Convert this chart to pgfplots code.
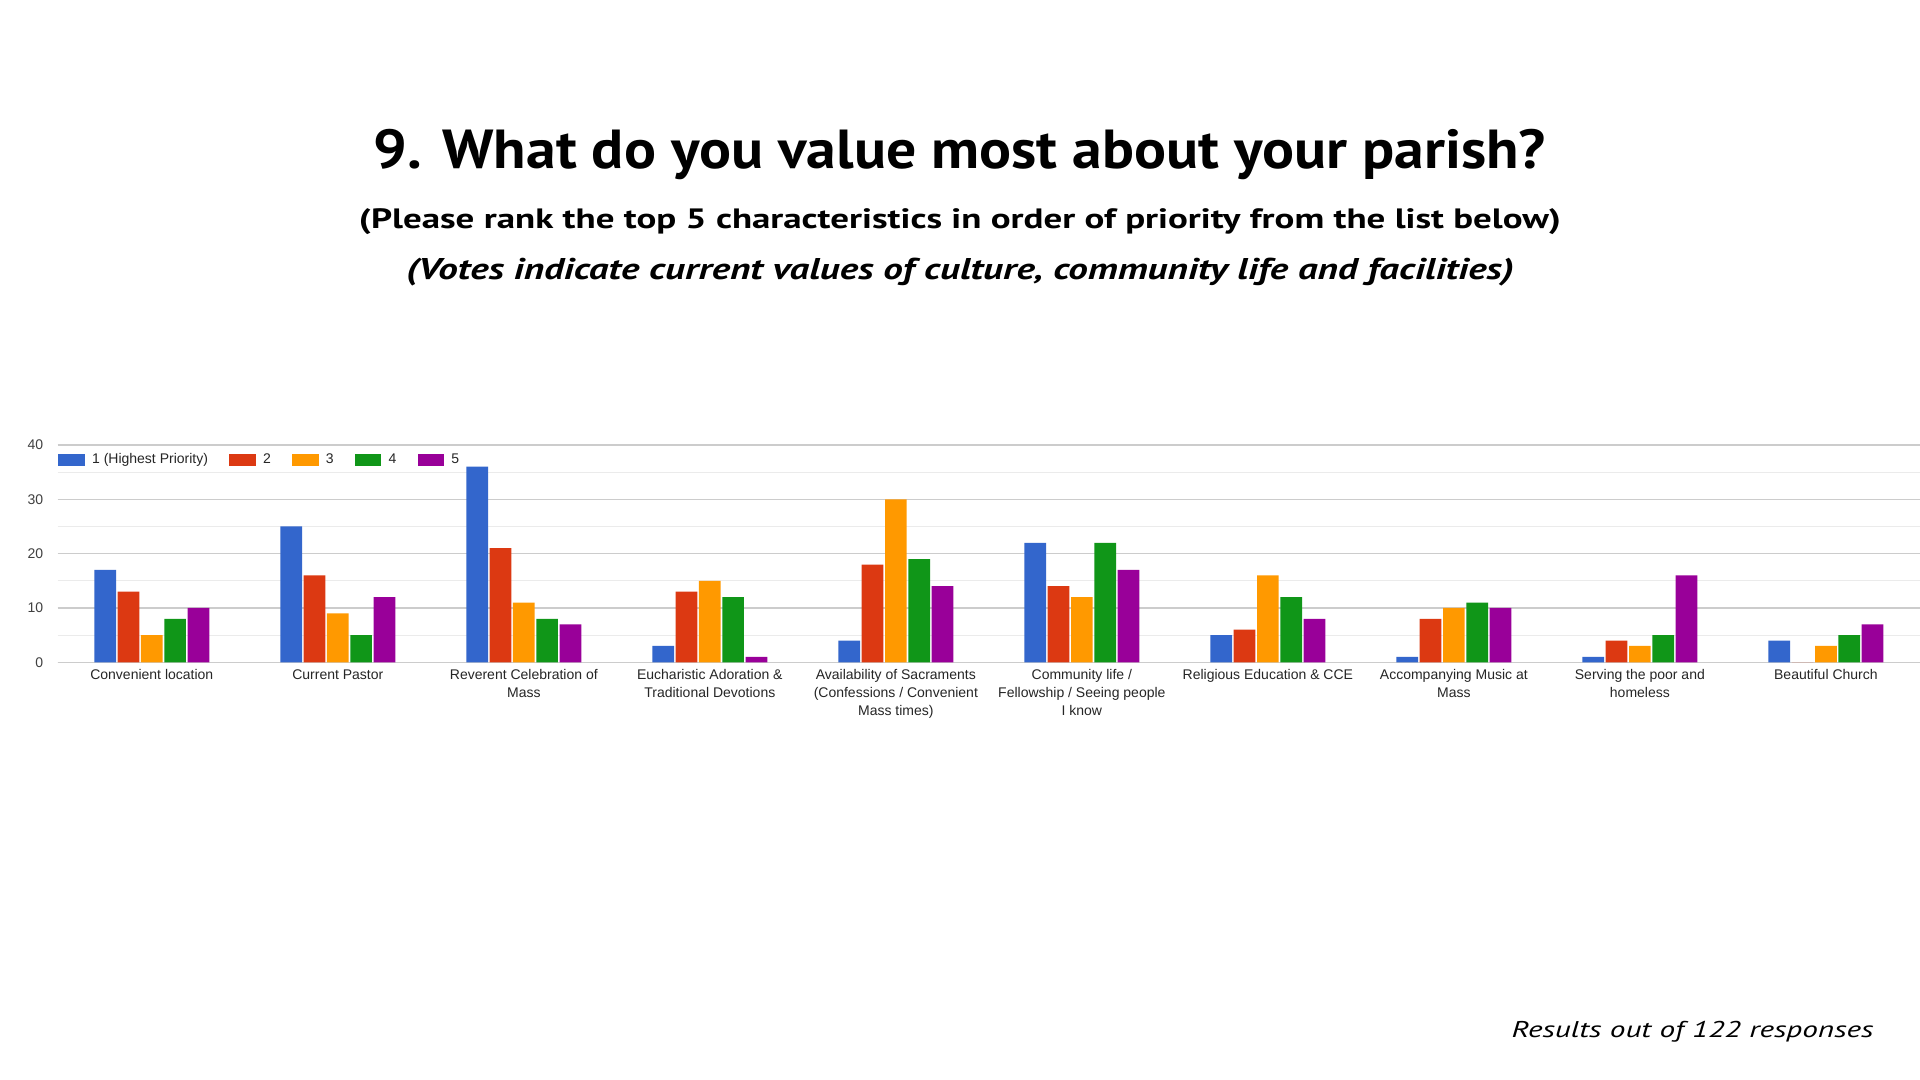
\documentclass[border=0pt]{standalone}
\usepackage{pgfplots}
\pgfplotsset{compat=1.18}
\usepackage{fontspec}
\usepackage{graphicx}
\setmainfont{Liberation Sans}
\newfontfamily\titlefont{PT Sans}
\definecolor{cA}{HTML}{3366CC}
\definecolor{cB}{HTML}{DC3912}
\definecolor{cC}{HTML}{FF9900}
\definecolor{cD}{HTML}{109618}
\definecolor{cE}{HTML}{990099}
\begin{document}
\begin{tikzpicture}
\path[fill=white,use as bounding box] (0pt,0pt) rectangle (960pt,540pt);
\node[anchor=base,inner sep=0pt] at (480pt,455.85pt) {\resizebox{586pt}{\height}{\titlefont\bfseries\fontsize{27.5pt}{30pt}\selectfont 9. What do you value most about your parish?}};
\node[anchor=base,inner sep=0pt] at (480pt,425.85pt) {\resizebox{601pt}{\height}{\titlefont\bfseries\fontsize{14pt}{16pt}\selectfont (Please rank the top 5 characteristics in order of priority from the list below)}};
\node[anchor=base,inner sep=0pt] at (480pt,400pt) {\resizebox{554pt}{\height}{\titlefont\bfseries\itshape\fontsize{15pt}{17pt}\selectfont (Votes indicate current values of culture, community life and facilities)}};
\node[anchor=base east,inner sep=0pt] at (937pt,21.3pt) {\resizebox{181pt}{\height}{\titlefont\itshape\fontsize{11.4pt}{13pt}\selectfont Results out of 122 responses}};
\begin{axis}[
  at={(28.75pt,208.85pt)}, anchor=south west,
  scale only axis, width=931.25pt, height=108.65pt,
  xmin=-0.507, xmax=9.506, ymin=0, ymax=40,
  ybar=0.8pt, bar width=10.85pt,
  axis line style={draw=none},
  tick style={draw=none},
  ytick={0,10,20,30,40}, minor ytick={5,15,25,35},
  ymajorgrids, yminorgrids,
  major grid style={color=black!20, line width=0.75pt},
  minor grid style={color=black!8, line width=0.5pt},
  extra y ticks={0}, extra y tick labels={},
  extra y tick style={grid style={color=black!70, line width=0.75pt}},
  /pgf/number format/assume math mode=true,
  yticklabel style={font=\fontsize{7pt}{8pt}\selectfont, text=black!75, anchor=east, inner sep=0pt, xshift=-7pt},
  xtick={0,...,9},
  xticklabels={{Convenient location},{Current Pastor},{Reverent Celebration of\\Mass},{Eucharistic Adoration \&\\Traditional Devotions},{Availability of Sacraments\\(Confessions / Convenient\\Mass times)},{Community life /\\Fellowship / Seeing people\\I know},{Religious Education \& CCE},{Accompanying Music at\\Mass},{Serving the poor and\\homeless},{Beautiful Church}},
  xticklabel style={font=\fontsize{7pt}{9pt}\selectfont, text=black!85, align=center, anchor=north, inner sep=0pt, yshift=1pt},
  legend columns=-1,
  legend style={at={(0,1)}, anchor=west, xshift=0.4pt, yshift=-7.5pt, draw=none, fill=none, inner sep=0pt, outer sep=0pt, font=\fontsize{7pt}{8pt}\selectfont, text=black!85, nodes={inner sep=0pt}, /tikz/every odd column/.append style={column sep=3.6pt}, /tikz/every even column/.append style={column sep=10.6pt}},
  legend image code/.code={\fill[#1] (0pt,-2.925pt) rectangle (13.3pt,2.925pt);},
]
\addplot[fill=cA, draw=none] coordinates {(0,17) (1,25) (2,36) (3,3) (4,4) (5,22) (6,5) (7,1) (8,1) (9,4)};
\addplot[fill=cB, draw=none] coordinates {(0,13) (1,16) (2,21) (3,13) (4,18) (5,14) (6,6) (7,8) (8,4) (9,0)};
\addplot[fill=cC, draw=none] coordinates {(0,5) (1,9) (2,11) (3,15) (4,30) (5,12) (6,16) (7,10) (8,3) (9,3)};
\addplot[fill=cD, draw=none] coordinates {(0,8) (1,5) (2,8) (3,12) (4,19) (5,22) (6,12) (7,11) (8,5) (9,5)};
\addplot[fill=cE, draw=none] coordinates {(0,10) (1,12) (2,7) (3,1) (4,14) (5,17) (6,8) (7,10) (8,16) (9,7)};
\legend{1 (Highest Priority),2,3,4,5}
\end{axis}
\end{tikzpicture}
\end{document}
